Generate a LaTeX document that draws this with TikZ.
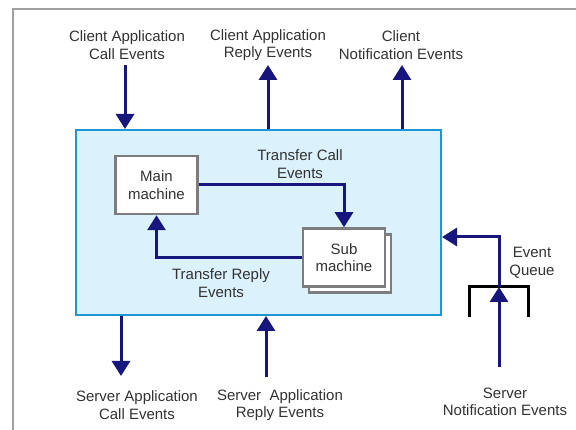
\documentclass[tikz,border=0pt]{standalone}
\usepackage{fontspec}
\setmainfont{Liberation Sans}
\usetikzlibrary{arrows.meta,shadows,calc}
\definecolor{eventblue}{RGB}{22,22,125}
\definecolor{boxfill}{RGB}{219,241,252}
\definecolor{boxline}{RGB}{30,150,212}
\definecolor{framegray}{RGB}{160,160,160}
\definecolor{machinegray}{RGB}{125,125,125}
\definecolor{textgray}{RGB}{50,50,50}

\begin{document}
\begin{tikzpicture}[
        %We work in pixels with y going down and define some styles
        x=1pt, y=-1pt,
        event arrow/.style={line width=3pt, -{Triangle[length=15pt,width=18pt]}, color=eventblue},
        queue line/.style={line width=3pt, black},
        frame line/.style={line width=2pt, color=framegray},
        system/.style={draw=boxline, fill=boxfill, line width=2pt, minimum width=365pt, minimum height=185pt},
        machine/.style={draw=machinegray, fill=white, line width=2.5pt, minimum width=82pt, minimum height=58pt},
        every node/.style={text=textgray, font=\fontsize{15}{17.5}\selectfont, align=center}
     ]
    \useasboundingbox (0,0) rectangle (576,430);
    % The frame round the picture
    \draw[frame line] (13,430) -- (13,9) -- (576,9);

    % The system and its two machines
    \node[system] (system) at (258.5,222.5) {};
    \node[machine] (main) at (156.5,185) {Main\\machine};
    \node[machine, copy shadow={shadow xshift=6pt, shadow yshift=-6pt}] (sub) at (344,257.5) {Sub\\machine};

    % Important coordinates are defined
    \coordinate (cac) at (125,65);
    \coordinate (car) at (268,65);
    \coordinate (cne) at (402,65);
    \coordinate (sac) at (121,376);
    \coordinate (sar) at (266,377);
    \coordinate (sne) at (499,367);
    \coordinate (qtop) at (499,287);
    \coordinate (turn) at (499,237);

    % Client side events
    \draw[event arrow] (cac) -- (cac |- system.north);
    \draw[event arrow] (car |- system.north) -- (car);
    \draw[event arrow] (cne |- system.north) -- (cne);
    % Server side events
    \draw[event arrow] (sac |- system.south) -- (sac);
    \draw[event arrow] (sar) -- (sar |- system.south);
    % The event queue
    \draw[queue line] (469,317) -- (469,287) -- (528,287) -- (528,317);
    \draw[event arrow] (sne) -- (qtop);
    \draw[event arrow] (qtop) -- (turn) -- (turn -| system.east);
    % Transfers between the machines
    \draw[event arrow] (main.east) -| (sub.north);
    \draw[event arrow] (sub.west) -| (main.south);

    % labels are added
    \node (callin) at (127,45) {Client Application\\Call Events};
    \node (replyout) at (268,45) {Client Application\\Reply Events};
    \node (notifyout) at (401,45) {Client\\Notification Events};
    \node (callout) at (137,405) {Server Application\\Call Events};
    \node (replyin) at (280,405) {Server\ \ Application\\Reply Events};
    \node (notifyin) at (505,402) {Server\\Notification Events};
    \node (queuelabel) at (532,263) {Event\\Queue};
    \node (calltext) at (300,164) {Transfer Call\\Events};
    \node (replytext) at (221,283) {Transfer Reply\\Events};
\end{tikzpicture}
\end{document}
